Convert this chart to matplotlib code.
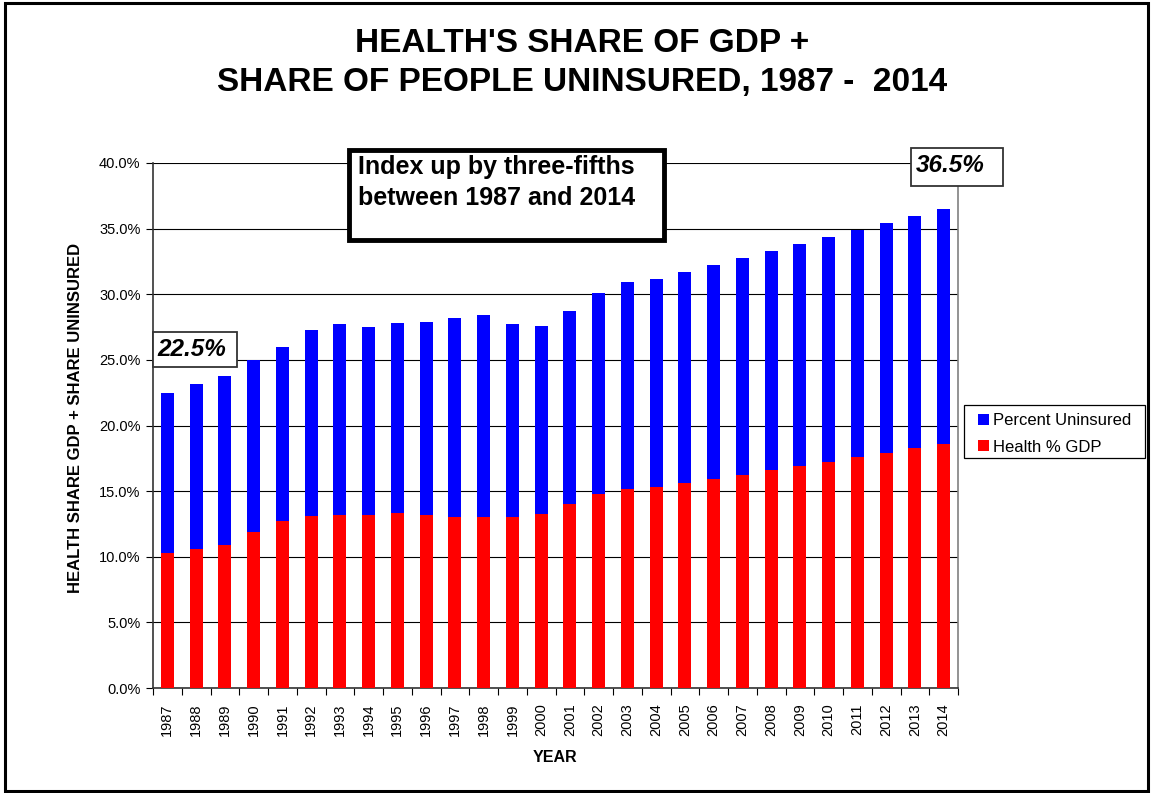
import matplotlib.pyplot as plt
import numpy as np
from matplotlib.patches import Rectangle
from matplotlib.ticker import FuncFormatter, MultipleLocator

plt.rcParams["font.family"] = ["Liberation Sans", "DejaVu Sans"]

years = list(range(1987, 2015))
health_gdp = [10.3, 10.6, 10.9, 11.9, 12.7, 13.1, 13.2, 13.15, 13.3, 13.2,
              13.05, 13.05, 13.0, 13.25, 14.0, 14.8, 15.15, 15.3, 15.6, 15.9,
              16.2, 16.6, 16.9, 17.25, 17.6, 17.9, 18.3, 18.6]
uninsured = [12.2, 12.6, 12.9, 13.1, 13.3, 14.2, 14.5, 14.35, 14.5, 14.7,
             15.15, 15.35, 14.7, 14.35, 14.7, 15.3, 15.75, 15.9, 16.1, 16.3,
             16.6, 16.7, 16.95, 17.15, 17.3, 17.5, 17.7, 17.9]
series_names = ["Percent Uninsured", "Health % GDP"]
series_colors = ["#0000ff", "#ff0000"]

W, H = 1151, 793
fig = plt.figure(figsize=(W / 100, H / 100), dpi=100)
ax = fig.add_axes([153 / W, 1 - 688 / H, 805 / W, 525 / H])


def px(x, y):
    """Pixel position (from top-left) to figure fraction."""
    return x / W, 1 - y / H


def box(x0, y0, x1, y1, lw, color, face="white"):
    fig.patches.append(Rectangle(px(x0, y1), (x1 - x0) / W, (y1 - y0) / H,
                                 transform=fig.transFigure, facecolor=face,
                                 edgecolor=color, linewidth=lw, zorder=5))


x = np.arange(len(years))
health = np.array(health_gdp)
unins = np.array(uninsured)
total = health + unins

ax.bar(x, health, width=0.46, color=series_colors[1], zorder=3)
ax.bar(x, unins, width=0.46, bottom=health, color=series_colors[0], zorder=3)

ax.set_xlim(-0.5, len(years) - 0.5)
ax.set_ylim(0, 40)
ax.yaxis.set_major_locator(MultipleLocator(5))
ax.yaxis.set_major_formatter(FuncFormatter(lambda v, _: f"{v:.1f}%"))
ax.grid(axis="y", color="black", linewidth=0.8, zorder=0)

ax.set_xticks(x)
ax.set_xticklabels([str(y) for y in years], rotation=90, fontsize=10.5)
ax.set_xticks(np.arange(-0.5, len(years)), minor=True)
ax.tick_params(axis="x", which="major", length=0, pad=11)
ax.tick_params(axis="x", which="minor", length=5, width=0.8, direction="out")
ax.tick_params(axis="y", length=5, width=0.8, labelsize=10.5, pad=4)

for side in ("left", "bottom"):
    ax.spines[side].set_color("#333333")
    ax.spines[side].set_linewidth(1.2)
ax.spines["right"].set_color("#808080")
ax.spines["right"].set_linewidth(1.2)
ax.spines["top"].set_visible(False)

ax.set_xlabel("YEAR", fontsize=11.5, fontweight="bold")
ax.xaxis.set_label_coords((555 - 153) / 805, -(762 - 688) / 525)
ax.xaxis.label.set_verticalalignment("baseline")
ax.set_ylabel("HEALTH SHARE GDP + SHARE UNINSURED", fontsize=12,
              fontweight="bold")
ax.yaxis.set_label_coords(-(153 - 83) / 805, (688 - 418) / 525)

fig.text(*px(582, 63), "HEALTH'S SHARE OF GDP +\nSHARE OF PEOPLE UNINSURED, 1987 -  2014",
         ha="center", va="center", fontsize=24, fontweight="bold",
         linespacing=1.3)

# callout boxes
box(349, 150, 664, 240, 3.5, "black")
fig.text(*px(358, 174), "Index up by three-fifths", ha="left", va="baseline",
         fontsize=18, fontweight="bold", zorder=6)
fig.text(*px(358, 205), "between 1987 and 2014", ha="left", va="baseline",
         fontsize=18, fontweight="bold", zorder=6)

box(153, 332, 237, 367, 1.3, "#333333")
fig.text(*px(157, 356), f"{total[0]:.1f}%", ha="left", va="baseline",
         fontsize=17.5, fontweight="bold", fontstyle="italic", zorder=6)
box(911, 148, 1003, 186, 1.3, "#333333")
fig.text(*px(916, 172), f"{total[-1]:.1f}%", ha="left", va="baseline",
         fontsize=17.5, fontweight="bold", fontstyle="italic", zorder=6)

# legend, laid out by hand
box(964, 405, 1145, 458, 0.9, "black")
for i, (name, color) in enumerate(zip(series_names, series_colors)):
    yc = 419 + 27 * i
    box(978, yc - 5.5, 989, yc + 5.5, 0, color, face=color)
    fig.text(*px(993, yc), name, ha="left", va="center_baseline",
             fontsize=12, zorder=6)

fig.patches.append(Rectangle((5 / W, 2 / H), 1143 / W, 788 / H,
                             transform=fig.transFigure, fill=False,
                             edgecolor="black", linewidth=2.2))

fig.savefig("out.png", dpi=100)
